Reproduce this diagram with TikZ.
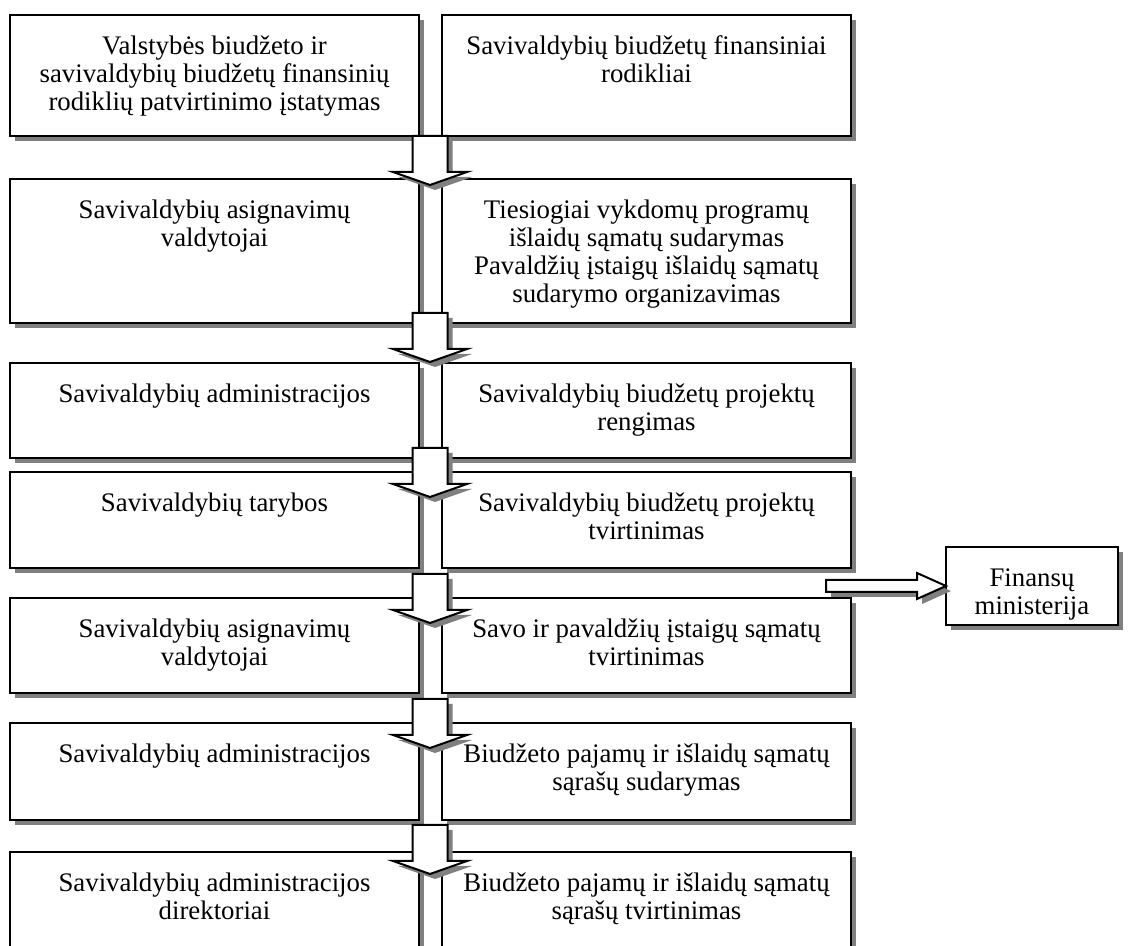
\documentclass[tikz,border=0pt]{standalone}
\usepackage{fontspec}
\setmainfont{Liberation Serif}
\usetikzlibrary{calc}
\tikzset{
  boxshape/.style={draw=black, line width=1pt, fill=white},
  shadowfill/.style={fill=black!50},
  txt/.style={anchor=north, inner sep=0pt, align=center, font=\fontsize{13.4pt}{14pt}\selectfont},
  arrowline/.style={draw=black, line width=1pt, fill=white, line join=miter},
  darrow/.pic={
    \fill[shadowfill] (-17.5+5,0+5) -- (17.5+5,0+5) -- (17.5+5,36+5) -- (37+5,36+5) -- (0+5,49+5) -- (-37+5,36+5) -- (-17.5+5,36+5) -- cycle;
    \path[arrowline] (-17.5,0) -- (17.5,0) -- (17.5,36) -- (37,36) -- (0,49) -- (-37,36) -- (-17.5,36) -- cycle;
  },
  rarrow/.pic={
    \fill[shadowfill] (-120+5,-6+5) -- (-29+5,-6+5) -- (-29+5,-13+5) -- (0+5,0+5) -- (-29+5,13+5) -- (-29+5,6+5) -- (-120+5,6+5) -- cycle;
    \path[arrowline] (-120,-6) -- (-29,-6) -- (-29,-13) -- (0,0) -- (-29,13) -- (-29,6) -- (-120,6) -- cycle;
  },
}
\newcommand\flowbox[6]{%
  \fill[shadowfill] (#2+5,#3+5) rectangle (#4+5,#5+5);
  \draw[boxshape] (#2,#3) rectangle (#4,#5);
  \coordinate (#1-top) at ({(#2+#4)/2},#3);
  \coordinate (#1-bot) at ({(#2+#4)/2},#5);
  \coordinate (#1-west) at (#2,{(#3+#5)/2});
  \node[txt] (#1) at ({(#2+#4)/2},#3+12) {\rule{0pt}{13.4pt}#6};
}
\begin{document}
\begin{tikzpicture}[x=0.5pt,y=-0.5pt]
\clip (0,0) rectangle (1132,946);
\fill[white] (0,0) rectangle (1132,946);
% row 1
\flowbox{L1}{10}{15}{419}{136}{Valstybės biudžeto ir\\savivaldybių biudžetų finansinių\\rodiklių patvirtinimo įstatymas}
\flowbox{R1}{442}{15}{851}{136}{Savivaldybių biudžetų finansiniai\\rodikliai}
% row 2
\flowbox{L2}{10}{179}{419}{323}{Savivaldybių asignavimų\\valdytojai}
\flowbox{R2}{442}{179}{851}{323}{Tiesiogiai vykdomų programų\\išlaidų sąmatų sudarymas\\Pavaldžių įstaigų išlaidų sąmatų\\sudarymo organizavimas}
% row 3
\flowbox{L3}{10}{363}{419}{458}{Savivaldybių administracijos}
\flowbox{R3}{442}{363}{851}{458}{Savivaldybių biudžetų projektų\\rengimas}
% row 4
\flowbox{L4}{10}{472}{419}{568}{Savivaldybių tarybos}
\flowbox{R4}{442}{472}{851}{568}{Savivaldybių biudžetų projektų\\tvirtinimas}
% row 5
\flowbox{L5}{10}{598}{419}{693}{Savivaldybių asignavimų\\valdytojai}
\flowbox{R5}{442}{598}{851}{693}{Savo ir pavaldžių įstaigų sąmatų\\tvirtinimas}
% row 6
\flowbox{L6}{10}{723}{419}{820}{Savivaldybių administracijos}
\flowbox{R6}{442}{723}{851}{820}{Biudžeto pajamų ir išlaidų sąmatų\\sąrašų sudarymas}
% row 7
\flowbox{L7}{10}{852}{419}{990}{Savivaldybių administracijos\\direktoriai}
\flowbox{R7}{442}{852}{851}{990}{Biudžeto pajamų ir išlaidų sąmatų\\sąrašų tvirtinimas}
% Finansu ministerija
\flowbox{F}{946}{547}{1118}{625}{Finansų\\ministerija}
% down arrows between rows
\pic at (430,136) {darrow};
\pic at (430,313) {darrow};
\pic at (430,448) {darrow};
\pic at (430,574) {darrow};
\pic at (430,699) {darrow};
\pic at (430,825) {darrow};
% right arrow to Finansu ministerija
\pic at (F-west) {rarrow};
\end{tikzpicture}
\end{document}
